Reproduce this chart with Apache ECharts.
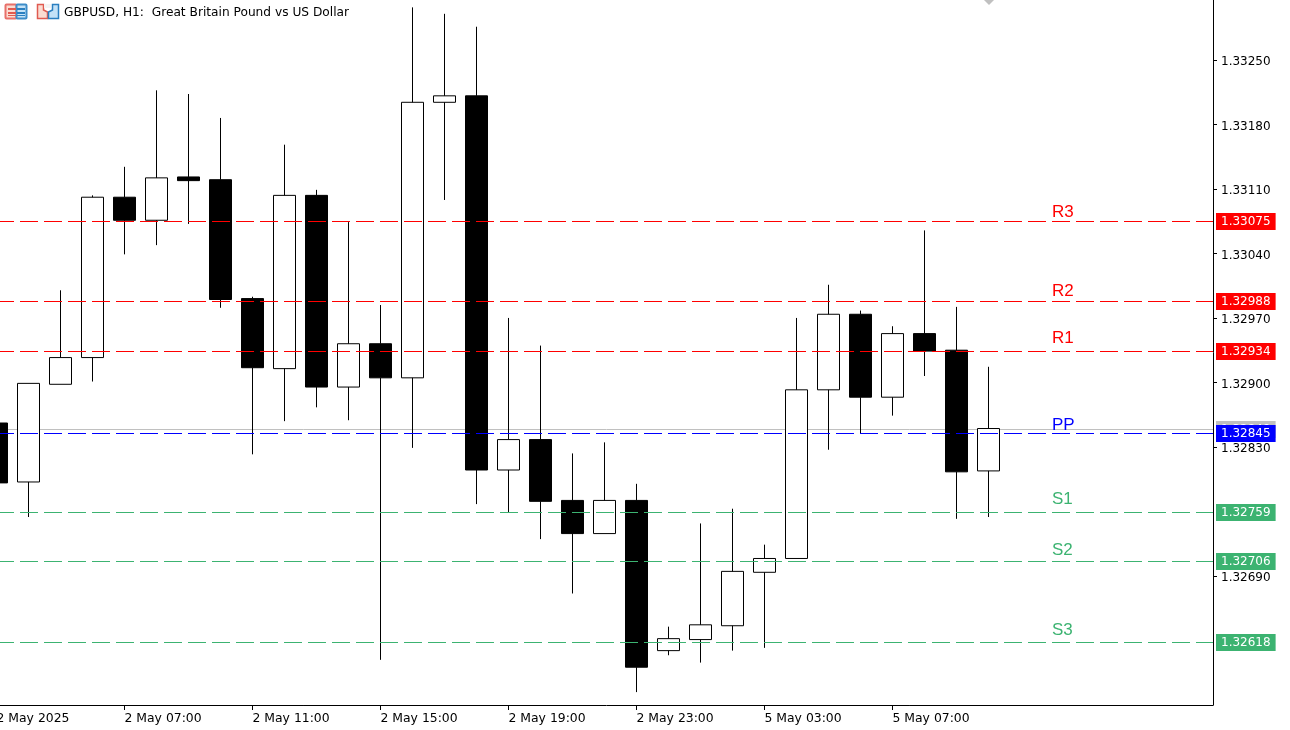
<!DOCTYPE html>
<html>
<head>
<meta charset="utf-8">
<title>GBPUSD, H1</title>
<script src="https://cdn.jsdelivr.net/npm/echarts@6/dist/echarts.min.js"></script>
<style>
html, body { margin: 0; padding: 0; background: #fff; }
#chart { width: 1290px; height: 730px; }
</style>
</head>
<body>
<div id="chart"></div>
<script>
// hourly bars, labels only on every 4th one
const categories = [
    '2 May 2025', '2 May 04:00', '2 May 05:00', '2 May 06:00',
    '2 May 07:00', '2 May 08:00', '2 May 09:00', '2 May 10:00',
    '2 May 11:00', '2 May 12:00', '2 May 13:00', '2 May 14:00',
    '2 May 15:00', '2 May 16:00', '2 May 17:00', '2 May 18:00',
    '2 May 19:00', '2 May 20:00', '2 May 21:00', '2 May 22:00',
    '2 May 23:00', '5 May 00:00', '5 May 01:00', '5 May 02:00',
    '5 May 03:00', '5 May 04:00', '5 May 05:00', '5 May 06:00',
    '5 May 07:00', '5 May 08:00', '5 May 09:00', '5 May 10:00',
    '', '', '', '', '', '', ''
];

const opens = [
    1.32856, 1.32792, 1.32898, 1.32927, 1.33101, 1.33076, 1.33123, 1.33120,
    1.32991, 1.32915, 1.33103, 1.32895, 1.32942, 1.32905, 1.33204, 1.33211,
    1.32805, 1.32838, 1.32772, 1.32736, 1.32772, 1.32609, 1.32621, 1.32636,
    1.32694, 1.32709, 1.32892, 1.32974, 1.32884, 1.32953, 1.32935, 1.32804
];
const closes = [
    1.32791, 1.32899, 1.32927, 1.33101, 1.33076, 1.33122, 1.33119, 1.32990,
    1.32916, 1.33103, 1.32895, 1.32942, 1.32905, 1.33204, 1.33211, 1.32805,
    1.32838, 1.32771, 1.32736, 1.32772, 1.32591, 1.32622, 1.32637, 1.32695,
    1.32709, 1.32892, 1.32974, 1.32884, 1.32953, 1.32934, 1.32803, 1.32850
];
const lows = [
    1.32770, 1.32754, 1.32898, 1.32901, 1.33039, 1.33049, 1.33072, 1.32981,
    1.32822, 1.32858, 1.32873, 1.32859, 1.32599, 1.32829, 1.33098, 1.32768,
    1.32759, 1.32730, 1.32671, 1.32736, 1.32564, 1.32604, 1.32596, 1.32609,
    1.32612, 1.32709, 1.32827, 1.32845, 1.32864, 1.32907, 1.32752, 1.32754
];
const highs = [
    1.32880, 1.32899, 1.33000, 1.33103, 1.33134, 1.33217, 1.33213, 1.33187,
    1.32993, 1.33158, 1.33109, 1.33074, 1.32984, 1.33307, 1.33300, 1.33286,
    1.32970, 1.32940, 1.32823, 1.32835, 1.32790, 1.32635, 1.32747, 1.32763,
    1.32724, 1.32970, 1.33006, 1.32978, 1.32961, 1.33065, 1.32982, 1.32917
];

const priceTicks = [1.33250, 1.33180, 1.33110, 1.33040, 1.32970, 1.32900, 1.32830, 1.32690];

const pivotNames = ['R3', 'R2', 'R1', 'PP', 'S1', 'S2', 'S3'];
const pivotValues = [1.33075, 1.32988, 1.32934, 1.32845, 1.32759, 1.32706, 1.32618];
// the text objects are anchored at their own price, a little above each level
const pivotNamePrices = [1.33085, 1.32999, 1.32948, 1.32854, 1.32773, 1.32718, 1.32631];
const pivotColors = ['#ff0000', '#ff0000', '#ff0000', '#0000ff', '#3cb371', '#3cb371', '#3cb371'];

const bidPrice = 1.32849;

const FONT = '"DejaVu Sans", sans-serif';
const BID_COLOR = '#c0c0c0';
const PRICE_MIN = 1.32550;
const PRICE_MAX = 1.33315;
const BAR_MIN = 0.125;  // x=0 of the window, in bars
const BAR_MAX = 38.03;  // x=1213
const NAME_BAR = 33;    // where the pivot names sit

// draws one horizontal level with its price tag, snapped to a whole pixel row
function renderLevel(color, dash, name, namePrice) {
    return (params, api) => {
        const value = api.value(1);
        const start = api.coord([BAR_MIN, value]);
        const end = api.coord([BAR_MAX, value]);
        const y = Math.floor(start[1]) + 0.5;
        const children = [
            {
                type: 'line',
                silent: true,
                shape: { x1: start[0], y1: y, x2: end[0], y2: y },
                style: { stroke: color, lineWidth: 1, lineDash: dash, lineDashOffset: 4 }
            },
            {
                type: 'text',
                silent: true,
                style: {
                    x: end[0] + 3,
                    y,
                    text: value.toFixed(5),
                    fill: '#ffffff',
                    backgroundColor: color,
                    fontFamily: FONT,
                    fontSize: 12,
                    lineHeight: 13,
                    padding: [2, 5, 2, 5],
                    verticalAlign: 'middle'
                }
            }
        ];
        if (name) {
            const pos = api.coord([NAME_BAR, namePrice]);
            children.push({
                type: 'text',
                silent: true,
                style: {
                    x: pos[0],
                    y: pos[1],
                    text: name,
                    fill: color,
                    fontFamily: '"Liberation Sans", Arial, sans-serif',
                    fontSize: 17,
                    verticalAlign: 'middle'
                }
            });
        }
        return { type: 'group', children };
    };
}

function levelSeries(name, value, color, dash, z, namePrice) {
    return {
        name,
        type: 'custom',
        xAxisIndex: 1,
        yAxisIndex: 1,
        clip: false,
        silent: true,
        z,
        encode: { x: 0, y: 1 },
        renderItem: renderLevel(color, dash, namePrice ? name : null, namePrice),
        data: [[BAR_MIN, value]]
    };
}

// MT5 style toolbar icons, small enough to just draw by hand
function icons() {
    const rect = (x, y, w, h, fill, stroke) => ({
        type: 'rect',
        silent: true,
        shape: { x, y, width: w, height: h, r: stroke ? 1 : 0 },
        style: { fill, stroke: stroke || null, lineWidth: stroke ? 2 : 0 }
    });
    const poly = (points, fill, stroke) => ({
        type: 'polygon',
        silent: true,
        shape: { points },
        style: { fill, stroke: stroke || null, lineWidth: stroke ? 1.5 : 0 }
    });
    return [
        rect(5.5, 4.5, 11, 14, '#fbdcd2', '#e8706a'),
        rect(16.5, 4.5, 10, 14, '#c4e2f7', '#3d8cc8'),
        rect(8, 8, 8, 2, '#e05a50'),
        rect(8, 12, 8, 2, '#e05a50'),
        rect(8, 15, 8, 1, '#e05a50'),
        rect(17, 8, 8, 2, '#2a7fc0'),
        rect(17, 12, 8, 2, '#2a7fc0'),
        rect(17, 15, 8, 1, '#2a7fc0'),
        poly([[37.5, 4.5], [43.5, 4.5], [43.5, 10], [47.5, 12], [47.5, 18.5], [37.5, 18.5]], '#fbdcd2', '#e05a50'),
        poly([[52.5, 4.5], [58.5, 4.5], [58.5, 18.5], [48.5, 18.5], [48.5, 12], [52.5, 10]], '#c4e2f7', '#2a7fc0'),
        rect(44, 4, 7, 4, '#f4f4f4'),
        poly([[984, 0], [994, 0], [989, 5]], '#c0c0c0')
    ];
}

const chart = echarts.init(document.getElementById('chart'), null, { renderer: 'canvas' });

chart.setOption({
    animation: false,
    backgroundColor: '#ffffff',
    title: {
        text: 'GBPUSD, H1:  Great Britain Pound vs US Dollar',
        left: 64,
        top: 7,
        padding: 0,
        textStyle: { color: '#000000', fontFamily: FONT, fontSize: 12.2, fontWeight: 'normal' }
    },
    graphic: icons(),
    // candle grid runs past the window so that bar 0 falls at x=-4
    grid: [
        { left: -19.5, top: 0, width: 1248, height: 705, outerBoundsMode: 'none' },
        { left: 0, top: 0, width: 1213, height: 705, outerBoundsMode: 'none' }
    ],
    xAxis: [
        {
            type: 'category',
            gridIndex: 0,
            data: categories,
            axisLine: { show: false },
            splitLine: { show: false },
            axisTick: {
                show: true,
                alignWithLabel: true,
                length: 5,
                interval: (i, v) => i % 4 === 0 && v !== '',
                lineStyle: { color: '#000000', width: 1 }
            },
            axisLabel: {
                show: true,
                align: 'left',
                margin: 8,
                color: '#000000',
                fontFamily: FONT,
                fontSize: 12.4,
                interval: (i, v) => i % 4 === 0 && v !== ''
            }
        },
        {
            type: 'value',
            gridIndex: 1,
            min: BAR_MIN,
            max: BAR_MAX,
            axisLine: { show: true, onZero: false, lineStyle: { color: '#000000', width: 1 } },
            axisTick: { show: false },
            axisLabel: { show: false },
            splitLine: { show: false }
        }
    ],
    yAxis: [
        {
            type: 'value',
            gridIndex: 0,
            min: PRICE_MIN,
            max: PRICE_MAX,
            show: false,
            splitLine: { show: false }
        },
        {
            type: 'value',
            gridIndex: 1,
            position: 'right',
            min: PRICE_MIN,
            max: PRICE_MAX,
            axisLine: { show: true, onZero: false, lineStyle: { color: '#000000', width: 1 } },
            axisTick: {
                show: true,
                length: 4,
                customValues: priceTicks,
                lineStyle: { color: '#000000', width: 1 }
            },
            axisLabel: {
                show: true,
                margin: 8,
                verticalAlign: 'top',  // labels sit about 2px under their tick
                lineHeight: 4,
                color: '#000000',
                fontFamily: FONT,
                fontSize: 12,
                customValues: priceTicks,
                formatter: (v) => v.toFixed(5)
            },
            splitLine: { show: false }
        }
    ],
    series: [
        // bid line runs behind the candles, pivots over them
        levelSeries('Bid', bidPrice, BID_COLOR, null, 1),
        {
            name: 'GBPUSD',
            type: 'candlestick',
            xAxisIndex: 0,
            yAxisIndex: 0,
            barWidth: 22,
            silent: true,
            z: 2,
            itemStyle: {
                color: '#ffffff',
                color0: '#000000',
                borderColor: '#000000',
                borderColor0: '#000000',
                borderWidth: 1
            },
            data: opens.map((o, i) => [o, closes[i], lows[i], highs[i]])
        },
        ...pivotNames.map((name, i) => levelSeries(name, pivotValues[i], pivotColors[i], [18, 6], 4, pivotNamePrices[i]))
    ]
});
</script>
</body>
</html>
